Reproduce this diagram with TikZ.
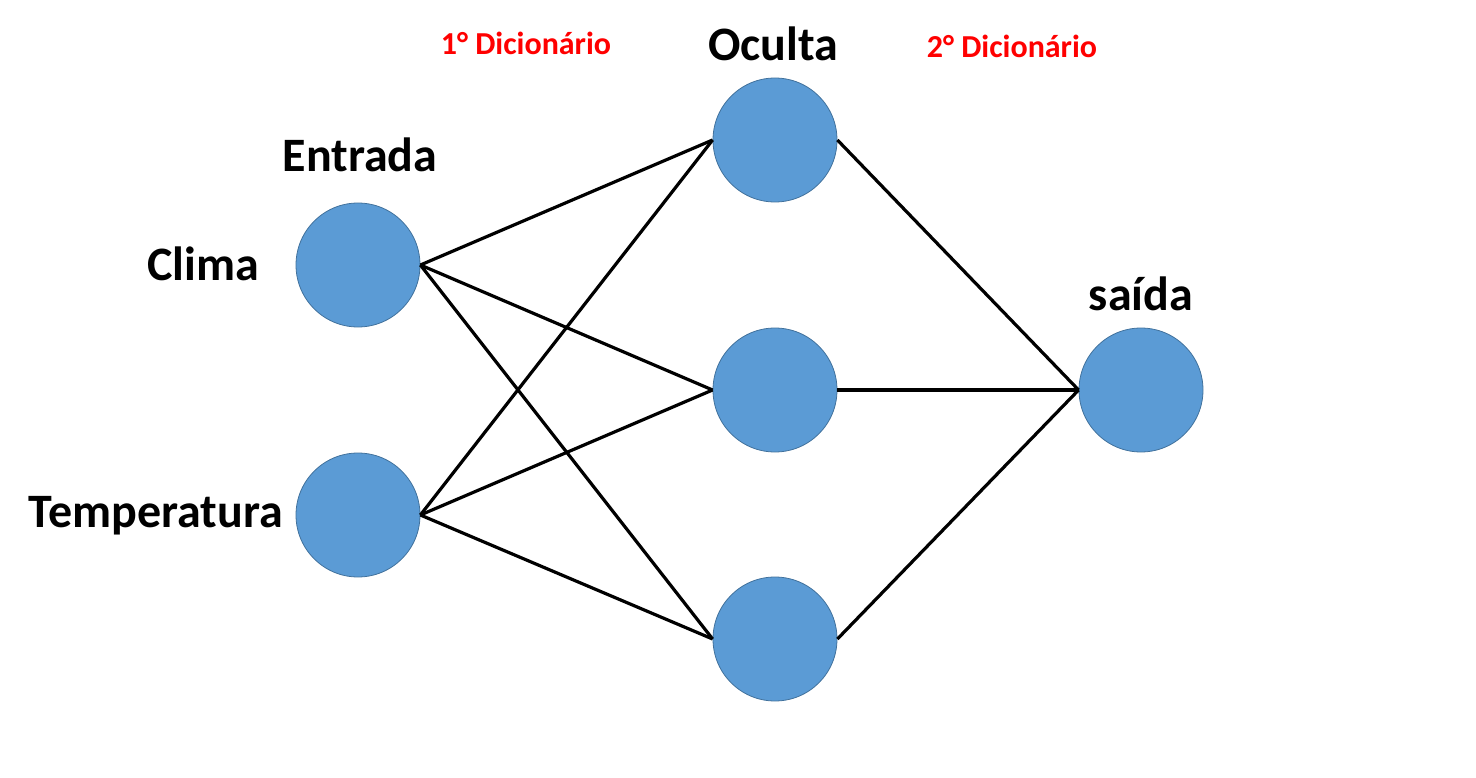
\documentclass[tikz,border=0pt]{standalone}
\usepackage{fontspec}
\setmainfont{Carlito}
\definecolor{nodefill}{HTML}{5B9BD5}
\definecolor{nodeedge}{HTML}{41719C}
\definecolor{labred}{HTML}{FF0000}
\begin{document}
\begin{tikzpicture}[x=1pt,y=-1pt,
  neuron/.style={circle,fill=nodefill,draw=nodeedge,line width=0.8pt,minimum size=124pt,inner sep=0pt},
  conn/.style={line width=3.2pt,black},
  biglab/.style={font=\fontsize{48}{56}\selectfont\bfseries,anchor=base,inner sep=0pt},
  redlab/.style={font=\fontsize{32}{38}\selectfont\bfseries,text=labred,anchor=base,inner sep=0pt}]
\useasboundingbox (0,0) rectangle (1476,778);
\node[neuron] (i1) at (358,265) {};
\node[neuron] (i2) at (358,515) {};
\node[neuron] (h1) at (775,140) {};
\node[neuron] (h2) at (775,390) {};
\node[neuron] (h3) at (775,639) {};
\node[neuron] (o1) at (1141,390) {};
\foreach \i in {i1,i2}{\foreach \h in {h1,h2,h3}{\draw[conn] (\i.east) -- (\h.west);}}
\foreach \h in {h1,h2,h3}{\draw[conn] (\h.east) -- (o1.west);}
\node[biglab] (tEntrada) at (360,172) {Entrada};
\node[biglab] (tClima) at (203,280) {Clima};
\node[biglab] (tTemp) at (156,527) {Temperatura};
\node[biglab] (tOculta) at (773,61) {Oculta};
\node[biglab] (tSaida) at (1141,310) {saída};
\node[redlab] (tD1) at (526,55) {1° Dicionário};
\node[redlab] (tD2) at (1012,58) {2° Dicionário};
\end{tikzpicture}
\end{document}
